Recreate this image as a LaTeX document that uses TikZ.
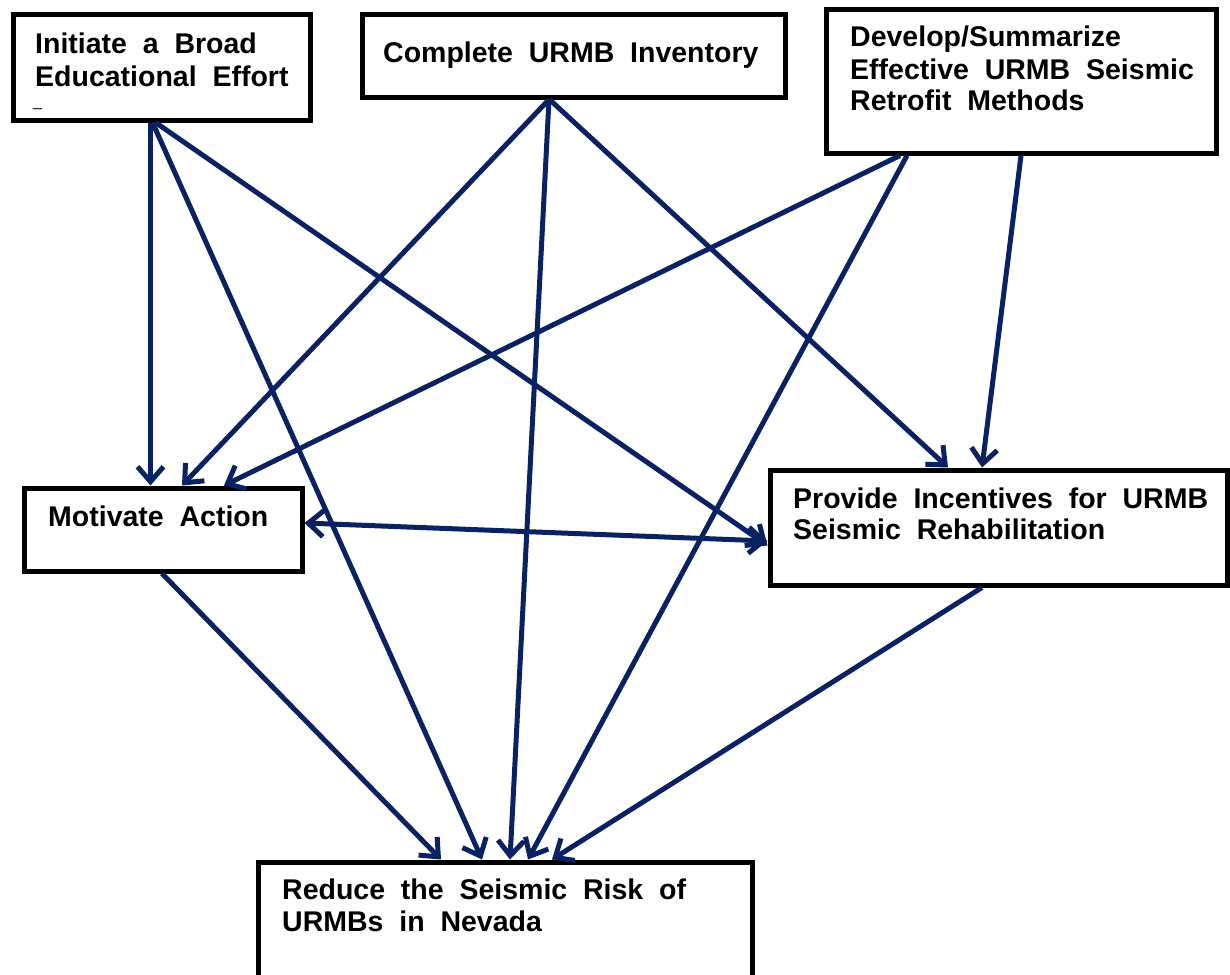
\documentclass[tikz,border=0pt]{standalone}
\usepackage{fontspec}
\setmainfont{Liberation Sans}[WordSpace=2]
\usetikzlibrary{arrows.meta}
\definecolor{navy}{RGB}{10,33,98}
\begin{document}
\begin{tikzpicture}[x=1pt,y=-1pt,
  box/.style={draw=black, line width=5pt, rectangle, anchor=north west, inner sep=0pt, outer sep=2.5pt},
  lbl/.style={anchor=base west, inner sep=0pt, font=\fontsize{28.5}{32}\selectfont\bfseries},
  conn/.style={draw=navy, line width=5pt, -{Straight Barb[length=15pt,width=26pt]}},
  twoway/.style={draw=navy, line width=5pt, {Straight Barb[length=15pt,width=26pt]}-{Straight Barb[length=15pt,width=26pt]}}]
\clip (0,0) rectangle (1230,974);
\fill[white] (0,0) rectangle (1230,974);
% boxes
\node[box, minimum width=297pt, minimum height=105pt] (init) at (10.5,12.5) {};
\node[box, minimum width=423pt, minimum height=82pt] (comp) at (359.5,12.5) {};
\node[box, minimum width=390pt, minimum height=143pt] (dev) at (823.5,7.5) {};
\node[box, minimum width=278pt, minimum height=83pt] (mot) at (21.5,485.5) {};
\node[box, minimum width=457pt, minimum height=115pt] (prov) at (767.5,467.5) {};
\node[box, minimum width=494pt, minimum height=138pt] (red) at (255.5,859.5) {};
% labels
\node[lbl] (init1) at (35,54) {Initiate a Broad};
\node[lbl] (init2) at (35,86) {Educational Effort};
\node[anchor=base west, inner sep=0pt, font=\fontsize{16}{16}\selectfont] (init3) at (33,106) {\textunderscore};
\node[lbl] (comp1) at (383,63) {Complete URMB Inventory};
\node[lbl] (dev1) at (850,46) {Develop/Summarize};
\node[lbl] (dev2) at (850,79) {Effective URMB Seismic};
\node[lbl] (dev3) at (850,110) {Retrofit Methods};
\node[lbl] (mot1) at (48,526) {Motivate Action};
\node[lbl] (prov1) at (793,508) {Provide Incentives for URMB};
\node[lbl] (prov2) at (793,539) {Seismic Rehabilitation};
\node[lbl] (red1) at (282,899) {Reduce the Seismic Risk of};
\node[lbl] (red2) at (282,931) {URMBs in Nevada};
% connectors
\draw[conn] ([xshift=140pt]init.south west) -- ([xshift=129pt]mot.north west);
\draw[conn] ([xshift=142pt]init.south west) -- ([xshift=226.5pt]red.north west);
\draw[conn] ([xshift=145pt]init.south west) -- ([yshift=-78pt]prov.north west);
\draw[conn] ([xshift=189.5pt]comp.south west) -- ([xshift=160.5pt]mot.north west);
\draw[conn] ([xshift=189.5pt]comp.south west) -- ([xshift=254.5pt]red.north west);
\draw[conn] ([xshift=190pt]comp.south west) -- ([xshift=180.5pt]prov.north west);
\draw[conn] ([xshift=76.5pt]dev.south west) -- ([xshift=202.5pt]mot.north west);
\draw[conn] ([xshift=83.5pt]dev.south west) -- ([xshift=272.5pt]red.north west);
\draw[conn] ([xshift=197.5pt]dev.south west) -- ([xshift=214.5pt]prov.north west);
\draw[twoway] ([yshift=-37.5pt]mot.north east) -- ([yshift=-73.5pt]prov.north west);
\draw[conn] ([xshift=140.5pt]mot.south west) -- ([xshift=185.5pt]red.north west);
\draw[conn] ([xshift=214.5pt]prov.south west) -- ([xshift=296.5pt]red.north west);
\end{tikzpicture}
\end{document}
